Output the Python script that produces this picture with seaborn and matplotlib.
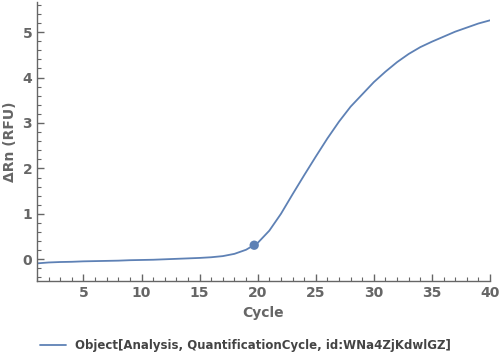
import numpy as np
import pandas as pd
import matplotlib
matplotlib.use("Agg")
import matplotlib.pyplot as plt
import seaborn as sns
from matplotlib.ticker import MultipleLocator

# amplification curve
cycle = [1, 2, 3, 4, 5, 6, 7, 8, 9, 10, 11, 12, 13, 14, 15, 16, 17, 18, 19, 20,
         21, 22, 23, 24, 25, 26, 27, 28, 29, 30, 31, 32, 33, 34, 35, 36, 37, 38, 39, 40]
delta_rn = [-0.09, -0.07, -0.06, -0.055, -0.045, -0.04, -0.035, -0.03, -0.02, -0.015,
            -0.01, 0.0, 0.01, 0.02, 0.03, 0.045, 0.07, 0.12, 0.21, 0.36,
            0.63, 1.0, 1.43, 1.85, 2.26, 2.66, 3.03, 3.36, 3.63, 3.9,
            4.13, 4.34, 4.52, 4.67, 4.79, 4.9, 5.01, 5.1, 5.19, 5.26]
cq_cycle = [19.7]
cq_value = [0.31]
series_name = "Object[Analysis, QuantificationCycle, id:WNa4ZjKdwlGZ]"

df = pd.DataFrame({"Cycle": cycle, "dRn": delta_rn, "series": series_name})
cq = pd.DataFrame({"Cycle": cq_cycle, "dRn": cq_value})

sns.set_style("white")
plt.rcParams['font.family'] = ['DejaVu Sans']
grey = "#666666"
blue = "#5E81B5"

fig = plt.figure(figsize=(5, 3.59), dpi=100)
ax = fig.add_axes([0.074, 0.217, 0.906, 0.777])

sns.lineplot(data=df, x="Cycle", y="dRn", hue="series", palette=[blue],
             lw=1.3, ax=ax)
sns.scatterplot(data=cq, x="Cycle", y="dRn", color=blue, s=45,
                edgecolor="none", ax=ax, legend=False)

ax.set_xlim(1, 40)
ax.set_ylim(-0.48, 5.66)
ax.xaxis.set_major_locator(MultipleLocator(5))
ax.xaxis.set_minor_locator(MultipleLocator(1))
ax.yaxis.set_major_locator(MultipleLocator(1))
ax.yaxis.set_minor_locator(MultipleLocator(0.2))
ax.tick_params(which="both", direction="in", bottom=True, left=True,
               colors=grey, labelcolor=grey)
ax.tick_params(which="major", length=5, width=1)
ax.tick_params(which="minor", length=3, width=0.8)
for lab in ax.get_xticklabels() + ax.get_yticklabels():
    lab.set_fontweight("bold")
    lab.set_fontsize(10)

for side in ["top", "right"]:
    ax.spines[side].set_visible(False)
for side in ["left", "bottom"]:
    ax.spines[side].set_color(grey)
    ax.spines[side].set_linewidth(1)

ax.set_xlabel("Cycle", color=grey, fontweight="bold", fontsize=10)
ax.set_ylabel("ΔRn (RFU)", color=grey, fontweight="bold", fontsize=10)

leg = ax.legend(loc="upper center", bbox_to_anchor=(0.46, -0.17), frameon=False,
                fontsize=8.5, handlelength=2.2)
for t in leg.get_texts():
    t.set_color("#444444")
    t.set_fontweight("bold")

fig.savefig("out.png", dpi=100)
